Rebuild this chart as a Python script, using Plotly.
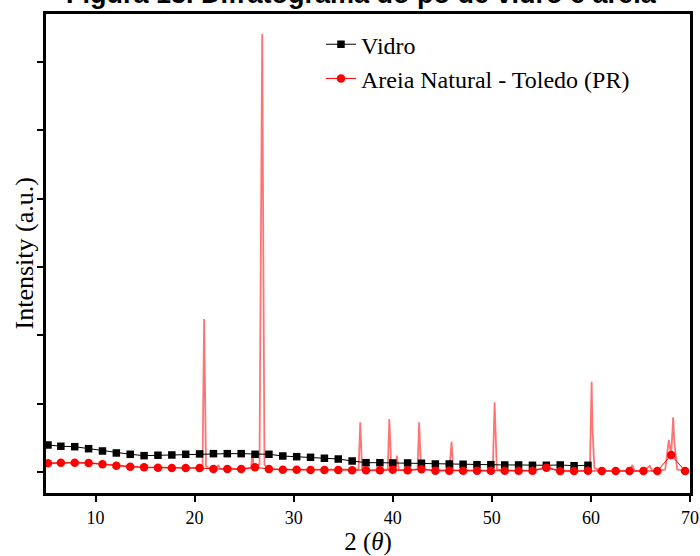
import plotly.graph_objects as go

# Vidro (glass powder) - sampled marker points
vidro_x = [5.2, 6.5, 7.9, 9.3, 10.7, 12.1, 13.5, 14.9, 16.3, 17.7, 19.1, 20.5, 21.9, 23.3,
           24.7, 26.1, 27.5, 28.9, 30.3, 31.7, 33.1, 34.5, 35.9, 37.3, 38.7, 40.0, 41.5,
           42.9, 44.3, 45.7, 47.1, 48.5, 49.9, 51.3, 52.7, 54.1, 55.5, 56.9, 58.3, 59.7]
vidro_y = [399, 380, 374, 345, 311, 282, 263, 243, 249, 253, 263, 268, 272, 272, 272, 263,
           263, 238, 228, 219, 205, 194, 165, 140, 140, 136, 136, 132, 121, 121, 117, 111,
           111, 107, 107, 102, 102, 107, 96, 102]

# Areia Natural - marker points
areia_mk_x = vidro_x + [61.1, 62.5, 63.9, 65.3, 66.7, 68.1, 69.5]
areia_mk_y = [132, 140, 140, 136, 117, 96, 82, 73, 67, 63, 63, 63, 48, 48, 48, 73, 48, 38,
              38, 34, 34, 34, 29, 29, 29, 38, 29, 44, 23, 23, 23, 23, 23, 23, 23, 23, 67,
              19, 19, 23, 19, 19, 19, 19, 19, 253, 19]

# Areia Natural - full profile vertices (baseline + diffraction peaks)
areia_line_x = [5.0, 6.4, 7.9, 9.3, 10.7, 12.1, 13.5, 14.9, 16.3, 17.7, 19.1, 20.5, 20.8,
                20.96, 21.15, 21.4, 21.9, 22.4, 22.6, 23.3, 24.7, 25.7, 25.84, 25.95, 26.1,
                26.55, 26.82, 27.05, 27.5, 28.9, 30.3, 31.7, 33.0, 34.5, 35.7, 36.55, 36.72,
                36.9, 37.3, 38.7, 39.5, 39.65, 39.85, 40.0, 40.3, 40.42, 40.6, 41.5, 42.5,
                42.66, 42.85, 44.3, 45.7, 45.94, 46.1, 47.1, 48.5, 49.9, 50.1, 50.28, 50.5,
                51.3, 52.6, 54.1, 55.5, 56.9, 58.3, 59.7, 59.9, 60.07, 60.15, 60.35, 61.1,
                62.5, 63.9, 64.19, 64.4, 65.3, 65.94, 66.2, 66.7, 67.5, 67.86, 68.1, 68.3,
                68.4, 68.7, 69.5]
areia_line_y = [132, 140, 140, 136, 117, 96, 82, 73, 67, 63, 63, 63, 70,
                2241, 90, 60, 48, 100, 50, 48, 48, 60, 282, 90, 73,
                120, 6408, 110, 48, 38, 38, 34, 34, 34, 29, 40, 731,
                45, 29, 29, 45, 779, 60, 38, 60, 243, 40, 29, 45,
                731, 44, 23, 30, 447, 30, 23, 23, 23, 60, 1023, 45,
                23, 23, 23, 67, 19, 19, 23, 60, 1325, 667, 60, 19,
                19, 19, 107, 19, 19, 92, 19, 19, 40, 472, 253, 804,
                472, 40, 19]

x_ticks = [10, 20, 30, 40, 50, 60, 70]
y_ticks = [0, 1000, 2000, 3000, 4000, 5000, 6000]

serif = "Liberation Serif"

fig = go.Figure()
fig.add_trace(go.Scatter(x=areia_line_x, y=areia_line_y, mode="lines",
                         line=dict(color="rgba(255,0,0,0.55)", width=1.8),
                         showlegend=False, hoverinfo="skip"))
fig.add_trace(go.Scatter(x=vidro_x, y=vidro_y, mode="lines+markers", name="Vidro",
                         line=dict(color="black", width=1),
                         marker=dict(symbol="square", size=7.5, color="black")))
fig.add_trace(go.Scatter(x=areia_mk_x, y=areia_mk_y, mode="lines+markers",
                         name="Areia Natural - Toledo (PR)",
                         line=dict(color="red", width=1),
                         marker=dict(symbol="circle", size=8.5, color="red")))

fig.add_annotation(text="<b>Figura 13. Difratograma do pó de vidro e areia</b>",
                   xref="paper", yref="paper", x=0.49, y=1, xanchor="center",
                   yanchor="middle", yshift=20, showarrow=False,
                   font=dict(family="Liberation Sans", size=27, color="black"))

# y-axis title placed as rotated text
fig.add_annotation(text="Intensity (a.u.)", xref="paper", yref="paper", x=0, y=0.5,
                   xanchor="center", yanchor="middle", xshift=-22, textangle=-90,
                   showarrow=False, font=dict(family=serif, size=26, color="black"))

fig.update_layout(
    width=700, height=556,
    margin=dict(l=46, r=10, t=14, b=63),
    paper_bgcolor="white", plot_bgcolor="white",
    showlegend=True,
    legend=dict(x=0.427, y=0.983, xanchor="left", yanchor="top",
                bgcolor="rgba(0,0,0,0)", font=dict(family=serif, size=24, color="black"),
                tracegroupgap=0),
    xaxis=dict(range=[5, 70], tickvals=x_ticks, ticks="outside", ticklen=6, tickwidth=1.5,
               tickcolor="black", showline=True, linewidth=3, linecolor="black", mirror=True,
               showgrid=False, zeroline=False, automargin=False,
               tickfont=dict(family=serif, size=18, color="black"),
               title=dict(text="2 (<i>θ</i>)", font=dict(family=serif, size=25, color="black"),
                          standoff=4)),
    yaxis=dict(range=[-303, 6700], tickvals=y_ticks, showticklabels=False, ticks="outside",
               ticklen=6, tickwidth=1.5, tickcolor="black", showline=True, linewidth=3,
               linecolor="black", mirror=True, showgrid=False, zeroline=False, automargin=False),
)

fig.write_html("out.html")
